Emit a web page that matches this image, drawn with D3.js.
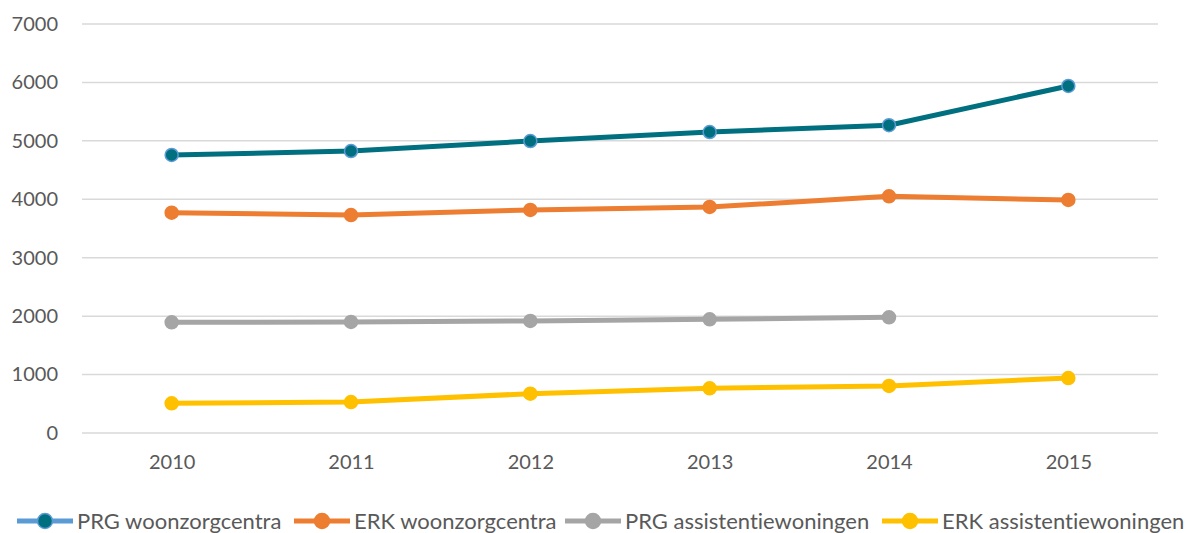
<!DOCTYPE html>
<html>
<head>
<meta charset="utf-8">
<script src="https://cdn.jsdelivr.net/npm/d3@7"></script>
<style>
  body { margin: 0; background: #fff; }
  text { font-family: Lato, "Open Sans", sans-serif; fill: #595959; font-variant-ligatures: none; }
</style>
</head>
<body>
<svg id="chart"></svg>
<script>
// data
var years = ["2010", "2011", "2012", "2013", "2014", "2015"];
var yTicks = [0, 1000, 2000, 3000, 4000, 5000, 6000, 7000];
var seriesNames = ["PRG woonzorgcentra", "ERK woonzorgcentra", "PRG assistentiewoningen", "ERK assistentiewoningen"];
var prgWzc = [4758, 4826, 4997, 5151, 5268, 5939];
var erkWzc = [3770, 3731, 3817, 3868, 4050, 3988];
var prgAw = [1894, 1900, 1917, 1946, 1980, null];
var erkAw = [508, 530, 673, 765, 806, 941];

var colors = ["#006F7F", "#ED7D31", "#A5A5A5", "#FFC000"];
var strokeColors = ["#5B9BD5", "#ED7D31", "#A5A5A5", "#FFC000"];
var legendLine = ["#5B9BD5", "#ED7D31", "#A5A5A5", "#FFC000"];

var W = 1186, H = 533;
var margin = {top: 24, right: 28, bottom: 100, left: 82},
    width = W - margin.left - margin.right,
    height = H - margin.top - margin.bottom;

var svg = d3.select("#chart").attr("width", W).attr("height", H);
var chart = svg.append("g")
    .attr("transform", "translate(" + margin.left + "," + margin.top + ")");

var x = d3.scalePoint().domain(years).range([0, width]).padding(0.5);
var y = d3.scaleLinear().domain([0, 7000]).range([height, 0]);

// gridlines
chart.append("g")
  .selectAll("line")
  .data(yTicks)
  .enter().append("line")
    .attr("x1", 0).attr("x2", width)
    .attr("y1", function(d) { return y(d); })
    .attr("y2", function(d) { return y(d); })
    .attr("stroke", "#d9d9d9")
    .attr("stroke-width", 1.5);

var yAxis = chart.append("g")
    .call(d3.axisLeft(y).tickValues(yTicks).tickSize(0).tickPadding(24).tickFormat(d3.format("d")));
yAxis.select(".domain").remove();
yAxis.selectAll("text").style("font-size", "20px").attr("fill", "#595959");

var xAxis = chart.append("g")
    .attr("transform", "translate(0," + height + ")")
    .call(d3.axisBottom(x).tickSize(0).tickPadding(22));
xAxis.select(".domain").remove();
xAxis.selectAll("text").style("font-size", "20px").attr("fill", "#595959");

var allSeries = [prgWzc, erkWzc, prgAw, erkAw];

var line = d3.line()
    .defined(function(d) { return d != null; })
    .x(function(d, i) { return x(years[i]); })
    .y(function(d) { return y(d); });

allSeries.forEach(function(vals, s) {
  chart.append("path")
    .datum(vals)
    .attr("fill", "none")
    .attr("stroke", colors[s])
    .attr("stroke-width", 5)
    .attr("stroke-linejoin", "round")
    .attr("d", line);

  chart.append("g")
    .selectAll("circle")
    .data(vals.map(function(v, i) { return {v: v, year: years[i]}; })
      .filter(function(d) { return d.v != null; }))
    .enter().append("circle")
      .attr("cx", function(d) { return x(d.year); })
      .attr("cy", function(d) { return y(d.v); })
      .attr("r", 6.5)
      .attr("fill", colors[s])
      .attr("stroke", strokeColors[s])
      .attr("stroke-width", 1.5);
});

// legend
var legendX = [17, 294, 565, 882];
var legend = svg.append("g").attr("transform", "translate(0,521)");
seriesNames.forEach(function(name, s) {
  var g = legend.append("g").attr("transform", "translate(" + legendX[s] + ",0)");
  g.append("line")
    .attr("x1", 0).attr("x2", 56)
    .attr("stroke", legendLine[s]).attr("stroke-width", 5);
  g.append("circle")
    .attr("cx", 28).attr("r", 7.5)
    .attr("fill", colors[s])
    .attr("stroke", strokeColors[s]).attr("stroke-width", 1.5);
  g.append("text")
    .attr("x", 60).attr("dy", "0.35em")
    .style("font-size", "22px")
    .text(name);
});
</script>
</body>
</html>
